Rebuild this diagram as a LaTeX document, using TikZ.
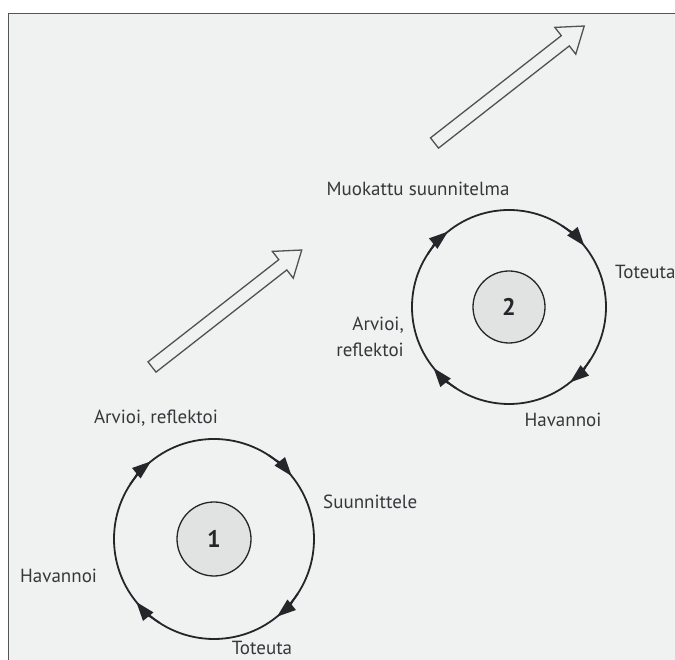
\documentclass[tikz,border=0pt]{standalone}
\usepackage{fontspec}
\setmainfont{PT Sans}
\usepackage{tikz}
\usetikzlibrary{arrows.meta}
\definecolor{pagebg}{RGB}{239,242,240}
\definecolor{framegray}{RGB}{85,85,85}
\definecolor{inkgray}{RGB}{36,38,42}
\definecolor{hubfill}{RGB}{224,227,225}

\begin{document}
\begin{tikzpicture}[x=1pt, y=1pt,
    lbl/.style={font=\fontsize{19}{22}\selectfont, text=inkgray!92, inner sep=0pt},
    ring/.style={circle, draw=inkgray, line width=1.8pt, inner sep=0pt},
    hub/.style={circle, draw=inkgray, line width=1.3pt, fill=hubfill, inner sep=0pt,
        font=\fontsize{24}{26}\selectfont\bfseries, text=inkgray},
    tipmark/.style={draw=inkgray, fill=inkgray, line width=1.8pt, -{Triangle[length=19pt, width=13pt]}},
    hollow/.style={draw=inkgray!80, line width=1.3pt, line join=miter}]
\useasboundingbox (0,0) rectangle (675,660);
\clip (0,0) rectangle (675,660);
% page with its frame
\fill[white] (0,0) rectangle (675,660);
\fill[pagebg] (8.7,0) rectangle (675,646.7);
\draw[framegray, line width=1.5pt] (8.7,-2) -- (8.7,646.7) -- (677,646.7);

% first cycle
\node[ring, minimum size=200pt] (ring1) at (214,121) {};
\node[hub, minimum size=74pt] (hub1) at (ring1.center) {1};
\foreach \a in {129,39,-51,-141}{
    \draw[tipmark] ([shift={(\a+18:100)}]ring1.center) arc[start angle=\a+18, end angle=\a, radius=100];
}
\node[lbl] (eval1) at (156,242) {Arvioi, reflektoi};
\node[lbl, anchor=west] (plan1) at (323,158) {Suunnittele};
\node[lbl, anchor=west] (obs1) at (20,84) {Havannoi};
\node[lbl, anchor=base] (act1) at (262,5) {Toteuta};

% second cycle
\node[ring, minimum size=194pt] (ring2) at (509,353) {};
\node[hub, minimum size=72pt] (hub2) at (ring2.center) {2};
\foreach \a in {129,39,-51,-141}{
    \draw[tipmark] ([shift={(\a+18:97)}]ring2.center) arc[start angle=\a+18, end angle=\a, radius=97];
}
\node[lbl] (plan2) at (418,471) {Muokattu suunnitelma};
\node[lbl, anchor=west] (act2) at (615,388) {Toteuta};
\node[lbl] (obs2) at (563,240) {Havannoi};
\node[lbl, anchor=east, align=right, font=\fontsize{19}{26}\selectfont] (eval2) at (404,323) {Arvioi,\\reflektoi};

% hollow arrows between the cycles
\foreach \tx/\ty in {152/293, 434.5/517}{
    \draw[hollow, shift={(\tx,\ty)}, rotate=38]
        (0,-6.5) -- (166,-6.5) -- (166,-17) -- (190,0) -- (166,17) -- (166,6.5) -- (0,6.5) -- cycle;
}
\end{tikzpicture}
\end{document}
